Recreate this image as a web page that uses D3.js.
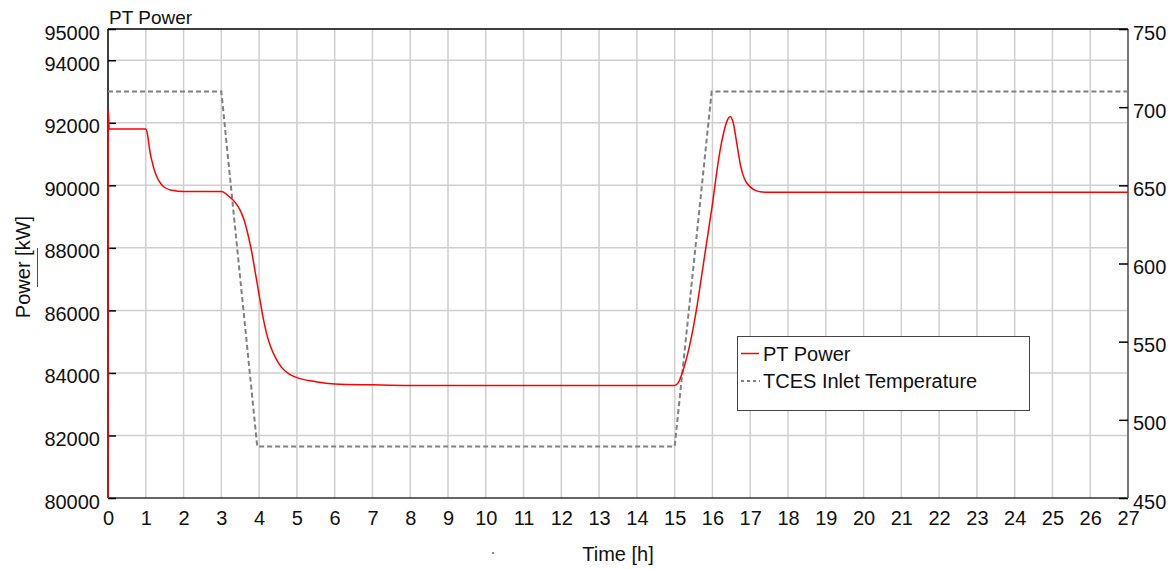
<!DOCTYPE html>
<html>
<head>
<meta charset="utf-8">
<script src="https://cdn.jsdelivr.net/npm/d3@7"></script>
<style>
  html, body { margin: 0; padding: 0; background: #fff; }
  svg { display: block; font-family: "Liberation Sans", Arial, sans-serif; }
</style>
</head>
<body>
<svg id="chart" width="1176" height="569"></svg>
<script>
// 数据：PT Power [kW]
const powerTime = [0, 0.005, 0.03, 1.0, 1.05, 1.1, 1.2, 1.3, 1.4, 1.5, 1.7, 2.0, 3.0, 3.2, 3.4, 3.5, 3.6, 3.7, 3.8, 3.9, 4.0, 4.1, 4.2, 4.3, 4.45, 4.6, 4.8, 5.0, 5.5, 6.0, 7.0, 8.0, 15.0, 15.1, 15.2, 15.3, 15.4, 15.5, 15.6, 15.7, 15.8, 15.9, 16.0, 16.1, 16.2, 16.3, 16.4, 16.47, 16.55, 16.65, 16.75, 16.85, 17.0, 17.15, 17.3, 17.5, 27];
const powerKW = [80000, 92400, 91800, 91800, 91600, 91150, 90600, 90250, 90050, 89930, 89840, 89800, 89800, 89650, 89400, 89200, 88900, 88450, 87900, 87200, 86500, 85800, 85250, 84850, 84450, 84170, 83960, 83850, 83720, 83650, 83620, 83600, 83600, 83700, 84000, 84400, 84900, 85500, 86200, 87000, 87800, 88600, 89400, 90300, 91100, 91700, 92100, 92200, 92000, 91300, 90600, 90200, 89950, 89830, 89790, 89780, 89780];

// 数据：TCES Inlet Temperature
const tempTime = [0, 3.0, 3.95, 15.0, 15.98, 27];
const tempValues = [710, 710, 483, 483, 710, 710];

// 刻度
const xTicks = d3.range(0, 28);
const leftTicks = [80000, 82000, 84000, 86000, 88000, 90000, 92000, 94000, 95000];
const gridTicks = [82000, 84000, 86000, 88000, 90000, 92000, 94000];
const rightTicks = [450, 500, 550, 600, 650, 700, 750];

const margin = { left: 108, right: 1128, top: 29, bottom: 498 };

const svg = d3.select("#chart");

const x = d3.scaleLinear().domain([0, 27]).range([margin.left, margin.right]);
const yL = d3.scaleLinear().domain([80000, 95000]).range([margin.bottom, margin.top]);
const yR = d3.scaleLinear().domain([450, 750]).range([margin.bottom, margin.top]);

// 网格
const grid = svg.append("g");
grid.selectAll(".vg").data(xTicks.slice(1, -1)).enter().append("line")
  .attr("x1", d => x(d)).attr("x2", d => x(d))
  .attr("y1", margin.top).attr("y2", margin.bottom)
  .attr("stroke", "#cfcfcf").attr("stroke-width", 1.5);
grid.selectAll(".hg").data(gridTicks).enter().append("line")
  .attr("x1", margin.left).attr("x2", margin.right)
  .attr("y1", d => yL(d)).attr("y2", d => yL(d))
  .attr("stroke", "#cfcfcf").attr("stroke-width", 1.5);

// 边框
svg.append("line").attr("x1", margin.left).attr("x2", margin.right)
  .attr("y1", margin.top).attr("y2", margin.top).attr("stroke", "#000").attr("stroke-width", 1.5);
svg.append("line").attr("x1", margin.left).attr("x2", margin.right)
  .attr("y1", margin.bottom).attr("y2", margin.bottom).attr("stroke", "#333").attr("stroke-width", 1.5);
svg.append("line").attr("x1", margin.left).attr("x2", margin.left)
  .attr("y1", margin.top).attr("y2", margin.bottom).attr("stroke", "#000").attr("stroke-width", 1.5);
svg.append("line").attr("x1", margin.right).attr("x2", margin.right)
  .attr("y1", margin.top).attr("y2", margin.bottom).attr("stroke", "#777").attr("stroke-width", 2);

// 坐标轴
function styleAxis(g) {
  g.select(".domain").remove();
  g.selectAll("text").attr("font-size", 20).attr("fill", "#111")
    .attr("font-family", "'Liberation Sans', Arial, sans-serif");
}

svg.append("g").attr("transform", `translate(${margin.left},0)`)
  .call(d3.axisLeft(yL).tickValues(leftTicks).tickFormat(d3.format("d")).tickSize(-8).tickPadding(8))
  .call(styleAxis)
  .call(g => g.selectAll("text").attr("dy", "0.5em"))
  .call(g => g.selectAll("line").attr("stroke", "#000").attr("stroke-width", 1.5));

svg.append("g").attr("transform", `translate(${margin.right},0)`)
  .call(d3.axisRight(yR).tickValues(rightTicks).tickSize(-9).tickPadding(5))
  .call(styleAxis)
  .call(g => g.selectAll("text").attr("dy", "0.5em"))
  .call(g => g.selectAll("line").attr("stroke", "#000").attr("stroke-width", 1.5));

svg.append("g").attr("transform", `translate(0,${margin.bottom})`)
  .call(d3.axisBottom(x).tickValues(xTicks).tickSize(0).tickPadding(13))
  .call(styleAxis);

// 曲线
const tempLine = d3.line().x(d => x(d[0])).y(d => yR(d[1]));
svg.append("path")
  .datum(tempTime.map((t, i) => [t, tempValues[i]]))
  .attr("d", tempLine)
  .attr("fill", "none").attr("stroke", "#808080").attr("stroke-width", 2)
  .attr("stroke-dasharray", "5,3");

const powerLine = d3.line().x(d => x(d[0])).y(d => yL(d[1])).curve(d3.curveMonotoneX);
svg.append("path")
  .datum(powerTime.map((t, i) => [t, powerKW[i]]))
  .attr("d", powerLine)
  .attr("fill", "none").attr("stroke", "#ff0000").attr("stroke-width", 1.5);

// 标题与轴标签
svg.append("text").attr("x", 109).attr("y", 24).attr("font-size", 19).attr("fill", "#111").text("PT Power");

svg.append("text").attr("transform", "translate(30,267) rotate(-90)")
  .attr("text-anchor", "middle").attr("font-size", 20).attr("fill", "#111").text("Power [kW]");
svg.append("line").attr("x1", 37.5).attr("x2", 37.5).attr("y1", 248).attr("y2", 287)
  .attr("stroke", "#ff0000").attr("stroke-width", 1);

svg.append("text").attr("x", 618).attr("y", 561).attr("text-anchor", "middle")
  .attr("font-size", 20).attr("fill", "#111").text("Time [h]");
svg.append("circle").attr("cx", 493).attr("cy", 553).attr("r", 1).attr("fill", "#666");

// 图例
const legend = svg.append("g");
legend.append("rect").attr("x", 737.5).attr("y", 336.5).attr("width", 292).attr("height", 74)
  .attr("fill", "#fff").attr("stroke", "#444").attr("stroke-width", 1);
legend.append("line").attr("x1", 741).attr("x2", 759).attr("y1", 353.5).attr("y2", 353.5)
  .attr("stroke", "#ff0000").attr("stroke-width", 1.5);
legend.append("text").attr("x", 763).attr("y", 361).attr("font-size", 20).attr("fill", "#111").text("PT Power");
legend.append("line").attr("x1", 741).attr("x2", 760).attr("y1", 381).attr("y2", 381)
  .attr("stroke", "#808080").attr("stroke-width", 2).attr("stroke-dasharray", "3,3");
legend.append("text").attr("x", 763).attr("y", 388).attr("font-size", 20).attr("fill", "#111").text("TCES Inlet Temperature");
</script>
</body>
</html>
